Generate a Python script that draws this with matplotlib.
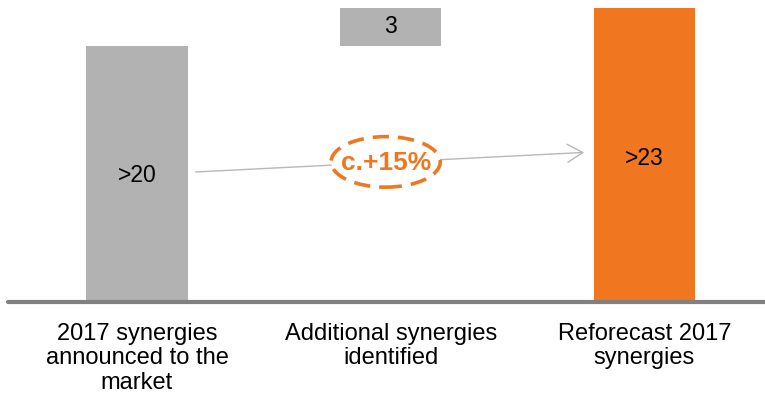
import matplotlib.pyplot as plt
from matplotlib.patches import Ellipse

plt.rcParams["font.family"] = ["Liberation Sans", "DejaVu Sans"]

# data
categories = ["2017 synergies\nannounced to the\nmarket",
              "Additional synergies\nidentified",
              "Reforecast 2017\nsynergies"]
bottoms = [0, 20, 0]
heights = [20, 3, 23]
value_labels = [">20", "3", ">23"]
growth_label = "c.+15%"

grey = "#b2b2b2"
orange = "#f0761f"
colors = [grey, grey, orange]

fig = plt.figure(figsize=(7.65, 3.98), dpi=100)
ax = fig.add_axes([0, 0, 1, 1])
ax.set_xlim(-0.54, 2.475)
ax.set_ylim(-7.5, 23.6)
ax.axis("off")

x = range(len(categories))
ax.bar(x, heights, bottom=bottoms, width=0.40, color=colors, zorder=2)

# baseline
ax.plot([-0.51, 2.475], [0, 0], color="#808080", lw=3, solid_capstyle="round", zorder=3)

# value labels (not all centred in their bars)
label_y = [9.85, 21.5, 11.2]
for i, (lab, yy) in enumerate(zip(value_labels, label_y)):
    ax.text(i, yy, lab, ha="center", va="center", fontsize=16.5, color="black", zorder=4)

# category labels
for i, lab in enumerate(categories):
    ax.text(i, -1.65, lab, ha="center", va="top", fontsize=17, linespacing=1.13)

# growth arrow
ax.annotate("", xy=(2 - 0.227, 11.7), xytext=(0 + 0.22, 10.15),
            arrowprops=dict(arrowstyle="->,head_length=1.1,head_width=0.65",
                            color="#b8b8b8", lw=1.0), zorder=1)
ell = Ellipse((0.98, 10.95), 0.43, 3.95, facecolor="white", edgecolor=orange,
              lw=2.6, linestyle=(0, (4.5, 2.5)), zorder=3)
ax.add_patch(ell)
ax.text(0.98, 10.85, growth_label, ha="center", va="center", fontsize=19,
        fontweight="bold", color=orange, zorder=4)

fig.savefig("out.png", dpi=100)
